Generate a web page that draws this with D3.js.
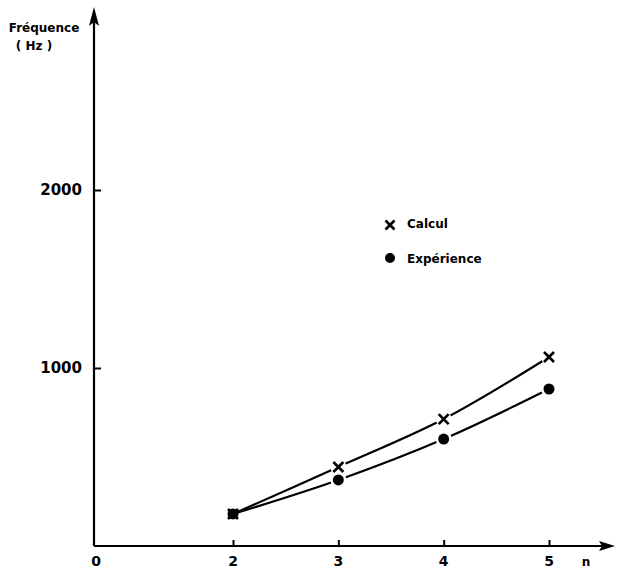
<!DOCTYPE html>
<html><head><meta charset="utf-8">
<script src="https://cdn.jsdelivr.net/npm/d3@7"></script>
<style>body{margin:0;background:#fff}svg{display:block}</style>
</head><body>
<script>
const nValues = [2, 3, 4, 5];
const calcul = [180, 444, 713, 1062];
const experience = [180, 371, 601, 882];
const yTicks = [1000, 2000];
const xTicks = [2, 3, 4, 5];
const seriesNames = ["Calcul", "Expérience"];

const W = 617, H = 570;
const svg = d3.select("body").append("svg").attr("width", W).attr("height", H);
const x = d3.scaleLinear().domain([2, 5]).range([233, 549]);
const y = d3.scaleLinear().domain([0, 2000]).range([546, 190]);
const x0 = 94, yBase = y(0);
const font = "DejaVu Sans, sans-serif";

// axes lines
svg.append("line").attr("x1", x0).attr("y1", yBase).attr("x2", 604).attr("y2", yBase)
  .attr("stroke", "#000").attr("stroke-width", 2.2);
svg.append("line").attr("x1", x0).attr("y1", yBase).attr("x2", x0).attr("y2", 22)
  .attr("stroke", "#000").attr("stroke-width", 2.2);
// arrowheads
svg.append("path").attr("d", `M615,${yBase} L599,${yBase-5} L602,${yBase} L599,${yBase+5} Z`).attr("fill", "#000");
svg.append("path").attr("d", `M${x0},7 L${x0-5},26 L${x0},22 L${x0+5},26 Z`).attr("fill", "#000");

// y ticks
const yAxis = d3.axisRight(y).tickValues(yTicks).tickSize(7).tickFormat("");
const gy = svg.append("g").attr("transform", `translate(${x0},0)`).call(yAxis);
gy.select(".domain").remove();
gy.selectAll("line").attr("stroke-width", 2);
svg.selectAll(".ylab").data(yTicks).enter().append("text")
  .attr("x", 82).attr("y", d => y(d) + 5).attr("text-anchor", "end")
  .attr("font-family", font).attr("font-weight", "bold").attr("font-size", 15)
  .text(d => d);

// x ticks
const xAxis = d3.axisTop(x).tickValues(xTicks).tickSize(6).tickFormat("");
const gx = svg.append("g").attr("transform", `translate(0,${yBase})`).call(xAxis);
gx.select(".domain").remove();
gx.selectAll("line").attr("stroke-width", 2);
svg.selectAll(".xlab").data(xTicks).enter().append("text")
  .attr("x", d => x(d)).attr("y", 566).attr("text-anchor", "middle")
  .attr("font-family", font).attr("font-weight", "bold").attr("font-size", 14)
  .text(d => d);
svg.append("text").attr("x", x0 + 2).attr("y", 566).attr("text-anchor", "middle")
  .attr("font-family", font).attr("font-weight", "bold").attr("font-size", 14).text("0");
svg.append("text").attr("x", 586).attr("y", 566).attr("text-anchor", "middle")
  .attr("font-family", font).attr("font-weight", "bold").attr("font-size", 12).text("n");

// y title
svg.append("text").attr("x", 44).attr("y", 32).attr("text-anchor", "middle")
  .attr("font-family", font).attr("font-weight", "bold").attr("font-size", 12).text("Fréquence");
svg.append("text").attr("x", 34).attr("y", 50).attr("text-anchor", "middle")
  .attr("font-family", font).attr("font-weight", "bold").attr("font-size", 12).text("( Hz )");

// masks for line gaps around markers
const defs = svg.append("defs");
function makeMask(id, vals, r) {
  const m = defs.append("mask").attr("id", id).attr("maskUnits", "userSpaceOnUse")
    .attr("x", 0).attr("y", 0).attr("width", W).attr("height", H);
  m.append("rect").attr("width", W).attr("height", H).attr("fill", "#fff");
  vals.forEach((v, i) => {
    if (i === 0) return;
    m.append("circle").attr("cx", x(nValues[i])).attr("cy", y(v)).attr("r", r).attr("fill", "#000");
  });
}
makeMask("m1", calcul, 8);
makeMask("m2", experience, 8);

const line = d3.line().x((d, i) => x(nValues[i])).y(d => y(d)).curve(d3.curveCatmullRom.alpha(0.5));
svg.append("path").datum(calcul).attr("d", line).attr("fill", "none")
  .attr("stroke", "#000").attr("stroke-width", 2.2).attr("mask", "url(#m1)");
svg.append("path").datum(experience).attr("d", line).attr("fill", "none")
  .attr("stroke", "#000").attr("stroke-width", 2.2).attr("mask", "url(#m2)");

function cross(g, cx, cy, s) {
  g.append("path").attr("d", `M${cx-s},${cy-s} L${cx+s},${cy+s} M${cx-s},${cy+s} L${cx+s},${cy-s}`)
    .attr("stroke", "#000").attr("stroke-width", 2.6).attr("fill", "none");
}
const mk = svg.append("g");
calcul.forEach((v, i) => cross(mk, x(nValues[i]), y(v), 5));
experience.forEach((v, i) => mk.append("circle").attr("cx", x(nValues[i])).attr("cy", y(v)).attr("r", 5.5).attr("fill", "#000"));

// legend
cross(svg, 390, 225, 4.5);
svg.append("circle").attr("cx", 390).attr("cy", 258).attr("r", 5).attr("fill", "#000");
svg.append("text").attr("x", 407).attr("y", 228).attr("font-family", font).attr("font-weight", "bold")
  .attr("font-size", 12).text(seriesNames[0]);
svg.append("text").attr("x", 407).attr("y", 263).attr("font-family", font).attr("font-weight", "bold")
  .attr("font-size", 12).text(seriesNames[1]);
</script>
</body></html>
